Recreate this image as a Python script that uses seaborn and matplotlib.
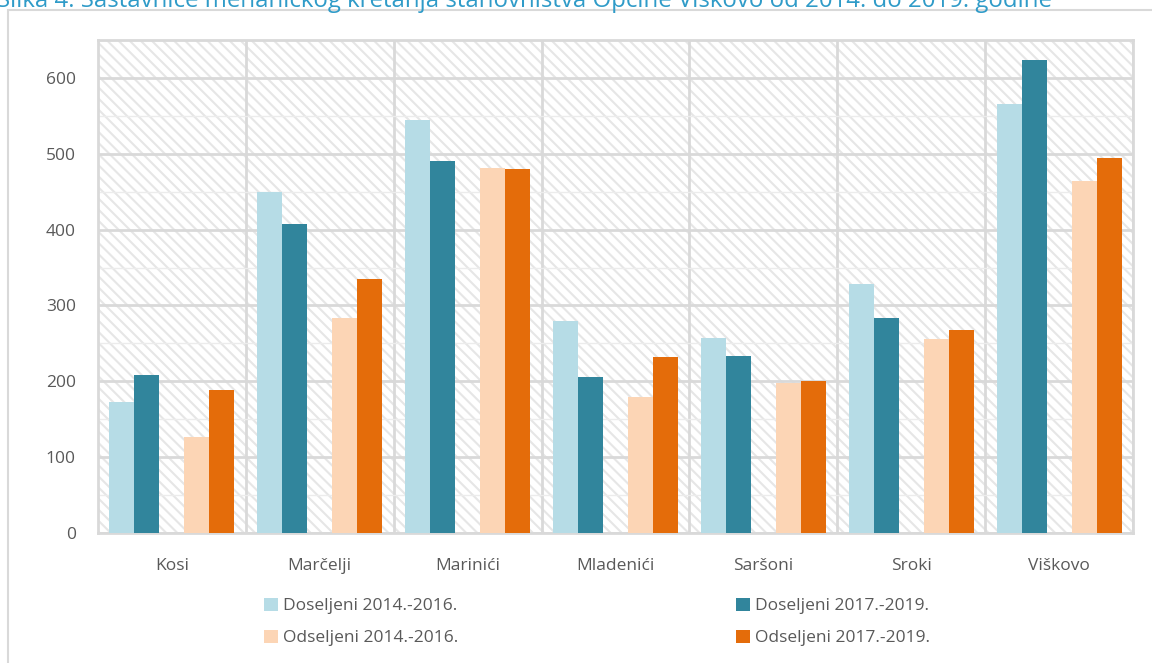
import matplotlib
matplotlib.use("Agg")
import matplotlib.pyplot as plt
from matplotlib.patches import Rectangle, Patch
import seaborn as sns
import pandas as pd
import numpy as np

# podaci ocitani sa slike
naselja = ["Kosi", "Marčelji", "Marinići", "Mladenići", "Saršoni", "Sroki", "Viškovo"]
dos_1416 = [173, 450, 545, 279, 257, 328, 565]
dos_1719 = [208, 408, 491, 206, 233, 283, 624]
ods_1416 = [127, 283, 481, 179, 198, 256, 464]
ods_1719 = [189, 335, 480, 232, 200, 268, 494]

serije = ["Doseljeni 2014.-2016.", "Doseljeni 2017.-2019.", " ",
          "Odseljeni 2014.-2016.", "Odseljeni 2017.-2019."]
boje = ["#b6dce6", "#31859c", "#ffffff", "#fcd5b5", "#e46c0a"]

df = pd.DataFrame({
    "naselje": naselja * 5,
    "serija": np.repeat(serije, len(naselja)),
    "broj": dos_1416 + dos_1719 + [0] * len(naselja) + ods_1416 + ods_1719,
})

sns.set_style("white")
plt.rcParams["font.family"] = ["Open Sans", "DejaVu Sans"]
plt.rcParams["hatch.linewidth"] = 1.5

fig = plt.figure(figsize=(11.52, 6.63), dpi=100)
ax = fig.add_axes([98 / 1152, 1 - 533 / 663, 1035 / 1152, 493 / 663])

# okvir grafikona
fig.patches.append(Rectangle((8 / 1152, -0.1), 1.2, 1 - 10 / 663 + 0.1,
                             transform=fig.transFigure, fill=False,
                             edgecolor="#d9d9d9", linewidth=1.5, zorder=0))
fig.text(-0.003, 1 - 7 / 663, "Slika 4. Sastavnice mehaničkog kretanja stanovništva Općine Viškovo od 2014. do 2019. godine",
         color="#2f9bc8", fontsize=17.3, va="baseline", ha="left")

# pozadina s kosim crtama
ax.add_patch(Rectangle((0, 0), 1, 1, transform=ax.transAxes, facecolor="white",
                       edgecolor="#e6e6e6", linewidth=0, hatch="\\" * 3, zorder=0))

sns.barplot(data=df, x="naselje", y="broj", hue="serija", hue_order=serije,
            palette=boje, width=125 / 148, ax=ax, legend=False,
            linewidth=0, saturation=1, zorder=3)

ax.set_ylim(0, 650)
ax.set_xlim(-0.5, len(naselja) - 0.5)
ax.set_yticks(np.arange(0, 700, 100))
ax.set_yticks(np.arange(50, 700, 100), minor=True)
ax.set_xticks(np.arange(len(naselja)) + 0.5, minor=True)
ax.grid(which="major", axis="y", color="#d9d9d9", linewidth=2, zorder=1)
ax.grid(which="minor", axis="y", color="#ececec", linewidth=1, zorder=1)
ax.grid(which="minor", axis="x", color="#d9d9d9", linewidth=2, zorder=1)
ax.set_axisbelow(True)
for s in ax.spines.values():
    s.set_color("#d9d9d9")
    s.set_linewidth(2)
ax.tick_params(axis="both", which="both", length=0, labelsize=12.5, labelcolor="#595959")
ax.tick_params(axis="x", pad=18)
ax.tick_params(axis="y", pad=16)
ax.set_xlabel("")
ax.set_ylabel("")

handles = [Patch(facecolor=boje[i], edgecolor="none", label=serije[i]) for i in [0, 3, 1, 4]]
fig.legend(handles=handles, loc="center", bbox_to_anchor=(0.518, 1 - 622 / 663), ncol=2,
           frameon=False, fontsize=12.5, labelcolor="#595959", columnspacing=16,
           handlelength=0.8, handleheight=0.8, handletextpad=0.3, labelspacing=0.9)

plt.savefig("out.png", dpi=100)
